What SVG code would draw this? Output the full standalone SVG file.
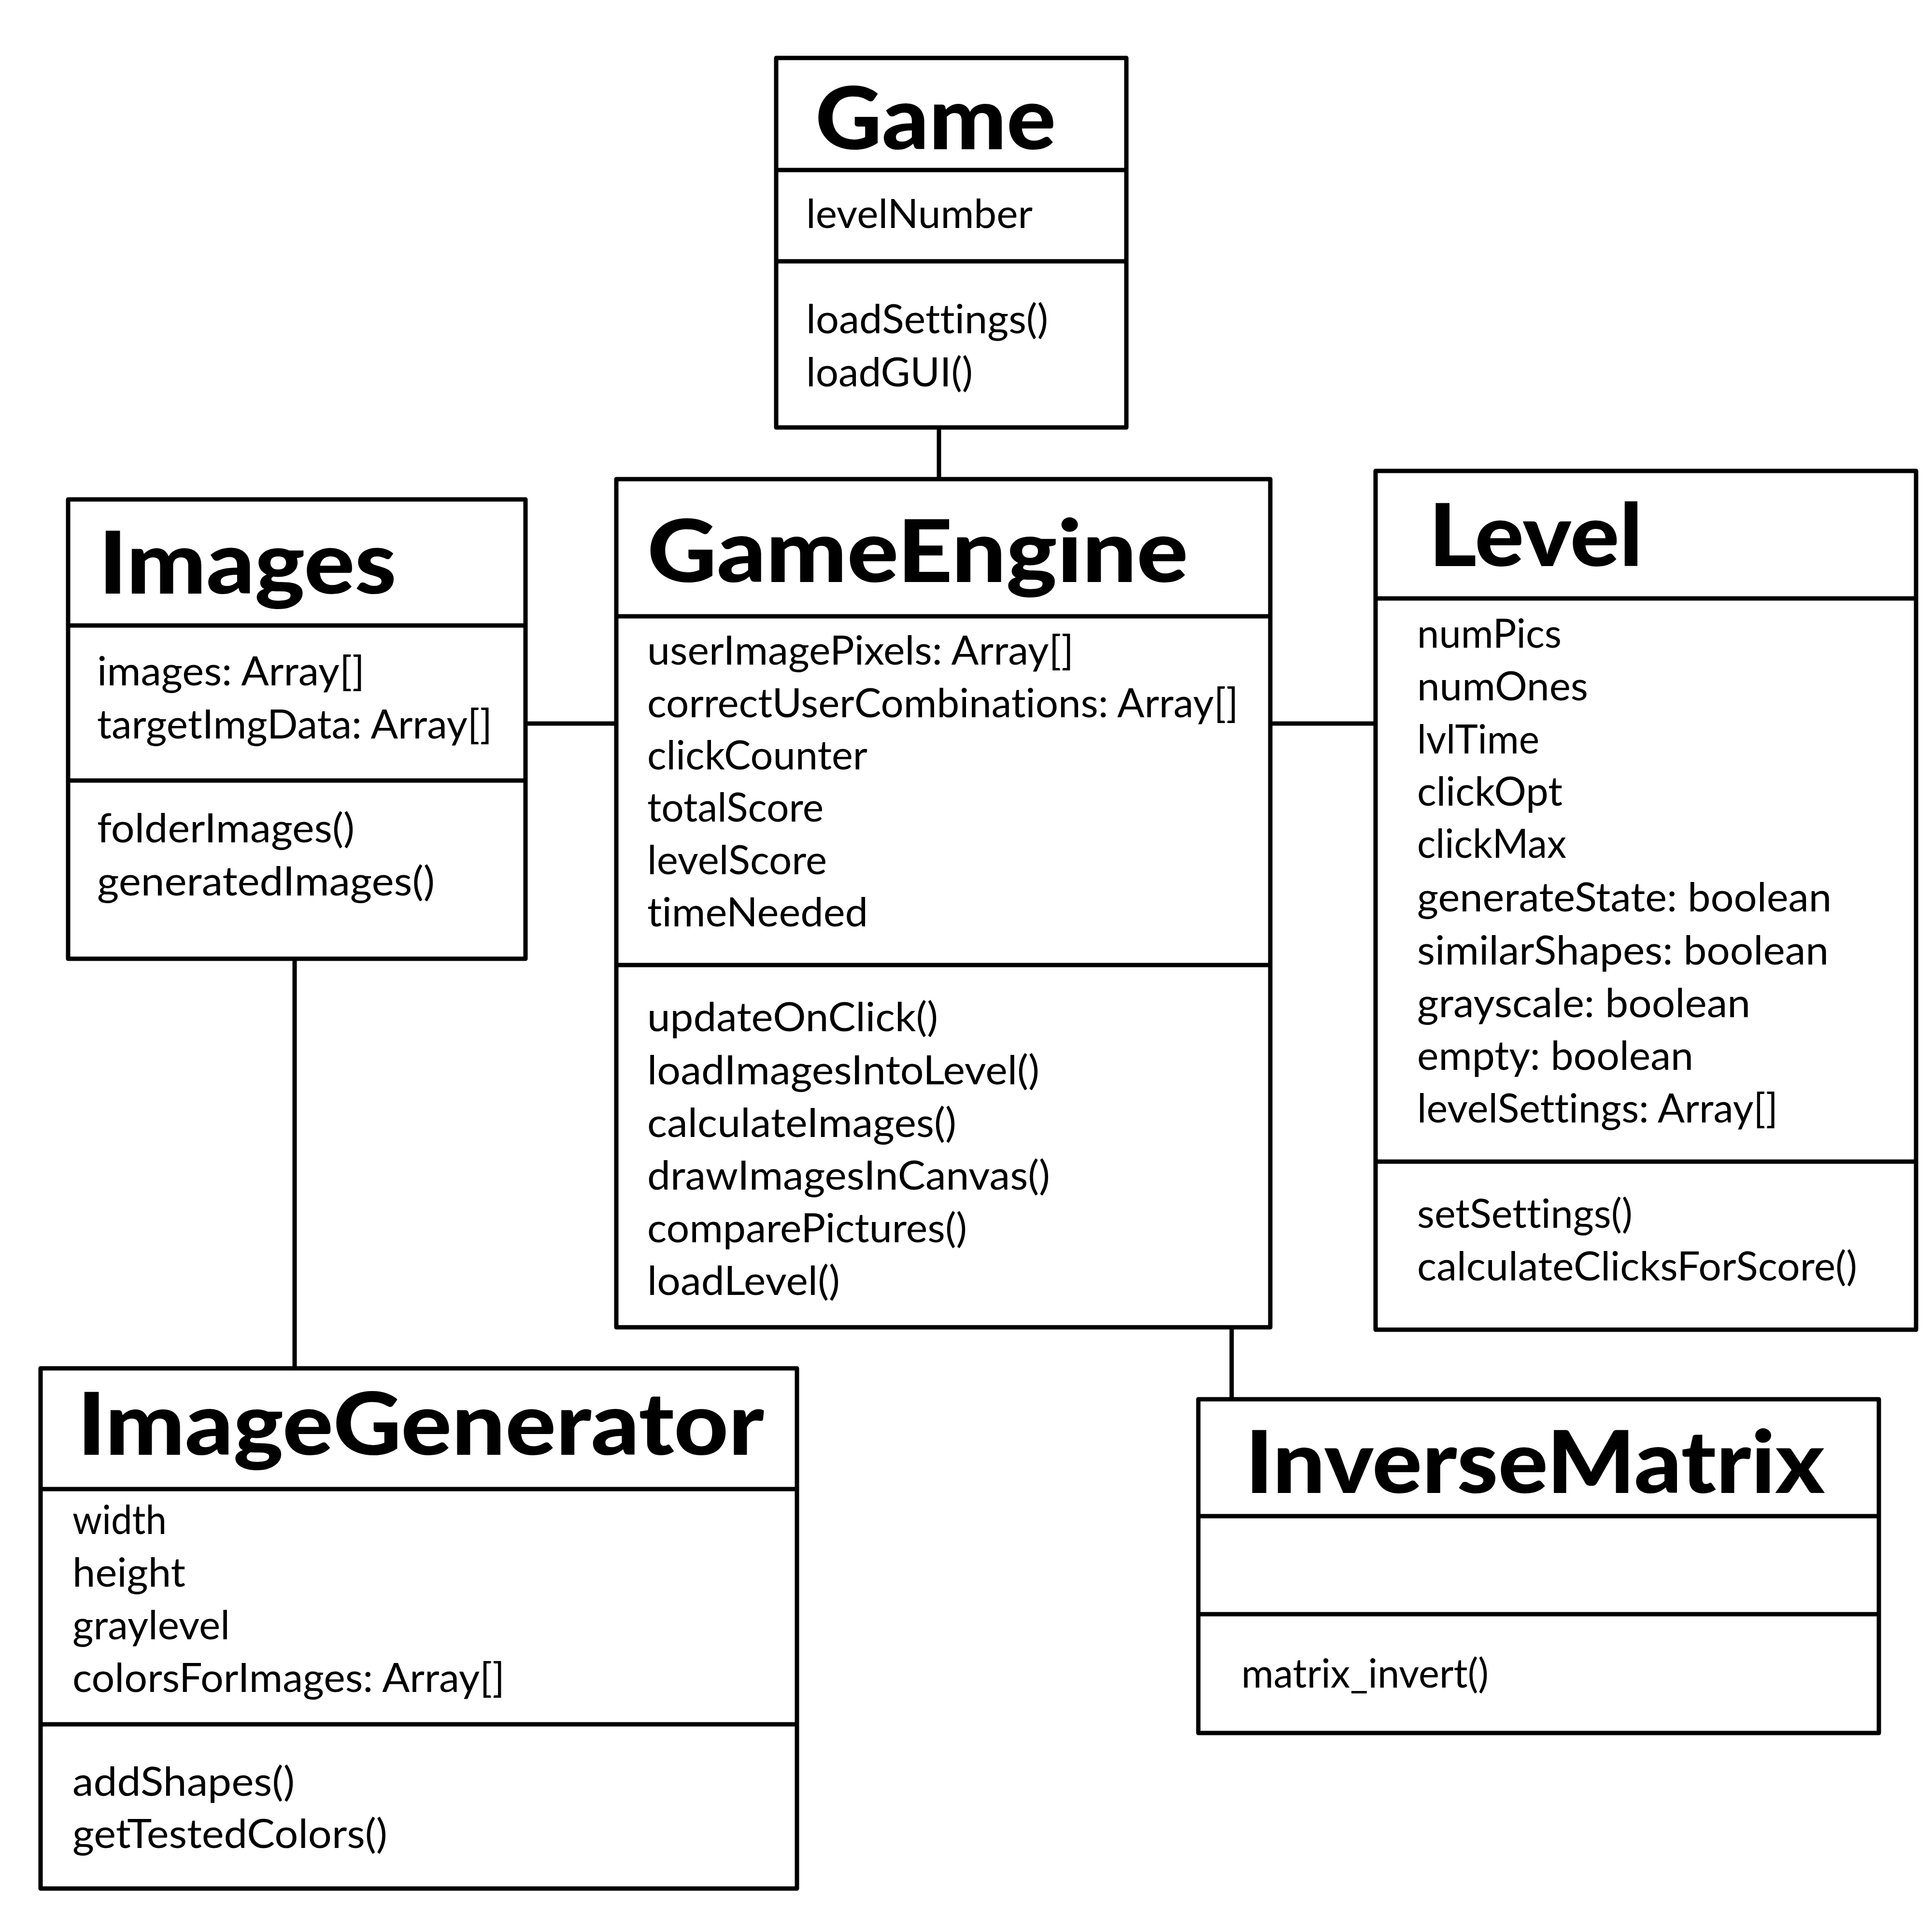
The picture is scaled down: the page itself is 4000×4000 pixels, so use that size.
<svg xmlns="http://www.w3.org/2000/svg" width="4000" height="4000" viewBox="0 0 4000 4000">
<style>
.box{fill:#fff;stroke:#000;stroke-width:9;stroke-linejoin:round}
.dv{stroke:#000;stroke-width:9;fill:none}
.cn{stroke:#000;stroke-width:9;fill:none}
.t{font-family:Lato,"Noto Sans",sans-serif;font-size:180px;font-weight:900;fill:#000;font-variant-ligatures:none;font-feature-settings:"liga" 0,"clig" 0}
.a{font-family:Lato,"Noto Sans",sans-serif;font-size:83px;font-weight:400;fill:#000;font-variant-ligatures:none;font-feature-settings:"liga" 0,"clig" 0}
</style>
<rect x="0" y="0" width="4000" height="4000" fill="#fff"/>
<g id="connectors">
<line class="cn" x1="1944" y1="885" x2="1944" y2="990"/>
<line class="cn" x1="1088" y1="1498" x2="1276" y2="1498"/>
<line class="cn" x1="2630" y1="1498" x2="2848" y2="1498"/>
<line class="cn" x1="610" y1="1985" x2="610" y2="2833"/>
<line class="cn" x1="2550" y1="2748" x2="2550" y2="2897"/>
</g>
<g id="Game">
<rect class="box" x="1607" y="120" width="725" height="765"/>
<line class="dv" x1="1607" y1="352" x2="2332" y2="352"/>
<line class="dv" x1="1607" y1="541" x2="2332" y2="541"/>
<text class="t" x="1688" y="309" textLength="498" lengthAdjust="spacingAndGlyphs">Game</text>
<text class="a" x="1669" y="472" textLength="469" lengthAdjust="spacingAndGlyphs">levelNumber</text>
<text class="a" x="1669" y="690" textLength="501" lengthAdjust="spacingAndGlyphs">loadSettings()</text>
<text class="a" x="1669" y="800" textLength="345" lengthAdjust="spacingAndGlyphs">loadGUI()</text>
</g>
<g id="Images">
<rect class="box" x="141" y="1034" width="947" height="951"/>
<line class="dv" x1="141" y1="1295" x2="1088" y2="1295"/>
<line class="dv" x1="141" y1="1616" x2="1088" y2="1616"/>
<text class="t" x="204" y="1229" textLength="617" lengthAdjust="spacingAndGlyphs">Images</text>
<text class="a" x="201" y="1419" textLength="554" lengthAdjust="spacingAndGlyphs">images: Array[]</text>
<text class="a" x="201" y="1529" textLength="818" lengthAdjust="spacingAndGlyphs">targetImgData: Array[]</text>
<text class="a" x="201" y="1744" textLength="533" lengthAdjust="spacingAndGlyphs">folderImages()</text>
<text class="a" x="201" y="1854" textLength="699" lengthAdjust="spacingAndGlyphs">generatedImages()</text>
</g>
<g id="GameEngine">
<rect class="box" x="1276" y="992" width="1354" height="1756"/>
<line class="dv" x1="1276" y1="1276" x2="2630" y2="1276"/>
<line class="dv" x1="1276" y1="1998" x2="2630" y2="1998"/>
<text class="t" x="1340" y="1205" textLength="1120" lengthAdjust="spacingAndGlyphs">GameEngine</text>
<text class="a" x="1340" y="1376" textLength="883" lengthAdjust="spacingAndGlyphs">userImagePixels: Array[]</text>
<text class="a" x="1340" y="1485" textLength="1224" lengthAdjust="spacingAndGlyphs">correctUserCombinations: Array[]</text>
<text class="a" x="1340" y="1593" textLength="456" lengthAdjust="spacingAndGlyphs">clickCounter</text>
<text class="a" x="1340" y="1701" textLength="365" lengthAdjust="spacingAndGlyphs">totalScore</text>
<text class="a" x="1340" y="1810" textLength="372" lengthAdjust="spacingAndGlyphs">levelScore</text>
<text class="a" x="1340" y="1918" textLength="457" lengthAdjust="spacingAndGlyphs">timeNeeded</text>
<text class="a" x="1340" y="2135" textLength="602" lengthAdjust="spacingAndGlyphs">updateOnClick()</text>
<text class="a" x="1340" y="2245" textLength="812" lengthAdjust="spacingAndGlyphs">loadImagesIntoLevel()</text>
<text class="a" x="1340" y="2354" textLength="640" lengthAdjust="spacingAndGlyphs">calculateImages()</text>
<text class="a" x="1340" y="2463" textLength="834" lengthAdjust="spacingAndGlyphs">drawImagesInCanvas()</text>
<text class="a" x="1340" y="2572" textLength="662" lengthAdjust="spacingAndGlyphs">comparePictures()</text>
<text class="a" x="1340" y="2681" textLength="399" lengthAdjust="spacingAndGlyphs">loadLevel()</text>
</g>
<g id="Level">
<rect class="box" x="2848" y="975" width="1119" height="1778"/>
<line class="dv" x1="2848" y1="1239" x2="3967" y2="1239"/>
<line class="dv" x1="2848" y1="2405" x2="3967" y2="2405"/>
<text class="t" x="2958" y="1172" textLength="443" lengthAdjust="spacingAndGlyphs">Level</text>
<text class="a" x="2934" y="1341" textLength="299" lengthAdjust="spacingAndGlyphs">numPics</text>
<text class="a" x="2934" y="1450" textLength="354" lengthAdjust="spacingAndGlyphs">numOnes</text>
<text class="a" x="2934" y="1560" textLength="253" lengthAdjust="spacingAndGlyphs">lvlTime</text>
<text class="a" x="2934" y="1668" textLength="301" lengthAdjust="spacingAndGlyphs">clickOpt</text>
<text class="a" x="2934" y="1776" textLength="309" lengthAdjust="spacingAndGlyphs">clickMax</text>
<text class="a" x="2934" y="1887" textLength="858" lengthAdjust="spacingAndGlyphs">generateState: boolean</text>
<text class="a" x="2934" y="1997" textLength="852" lengthAdjust="spacingAndGlyphs">similarShapes: boolean</text>
<text class="a" x="2934" y="2106" textLength="690" lengthAdjust="spacingAndGlyphs">grayscale: boolean</text>
<text class="a" x="2934" y="2215" textLength="572" lengthAdjust="spacingAndGlyphs">empty: boolean</text>
<text class="a" x="2934" y="2324" textLength="747" lengthAdjust="spacingAndGlyphs">levelSettings: Array[]</text>
<text class="a" x="2934" y="2542" textLength="446" lengthAdjust="spacingAndGlyphs">setSettings()</text>
<text class="a" x="2934" y="2651" textLength="911" lengthAdjust="spacingAndGlyphs">calculateClicksForScore()</text>
</g>
<g id="ImageGenerator">
<rect class="box" x="84" y="2833" width="1566" height="1077"/>
<line class="dv" x1="84" y1="3083" x2="1650" y2="3083"/>
<line class="dv" x1="84" y1="3570" x2="1650" y2="3570"/>
<text class="t" x="160" y="3012" textLength="1422" lengthAdjust="spacingAndGlyphs">ImageGenerator</text>
<text class="a" x="150" y="3176" textLength="195" lengthAdjust="spacingAndGlyphs">width</text>
<text class="a" x="150" y="3285" textLength="234" lengthAdjust="spacingAndGlyphs">height</text>
<text class="a" x="150" y="3394" textLength="326" lengthAdjust="spacingAndGlyphs">graylevel</text>
<text class="a" x="150" y="3503" textLength="895" lengthAdjust="spacingAndGlyphs">colorsForImages: Array[]</text>
<text class="a" x="150" y="3718" textLength="460" lengthAdjust="spacingAndGlyphs">addShapes()</text>
<text class="a" x="150" y="3826" textLength="652" lengthAdjust="spacingAndGlyphs">getTestedColors()</text>
</g>
<g id="InverseMatrix">
<rect class="box" x="2481" y="2897" width="1409" height="691"/>
<line class="dv" x1="2481" y1="3139" x2="3890" y2="3139"/>
<line class="dv" x1="2481" y1="3342" x2="3890" y2="3342"/>
<text class="t" x="2578" y="3091" textLength="1200" lengthAdjust="spacingAndGlyphs">InverseMatrix</text>
<text class="a" x="2570" y="3494" textLength="512" lengthAdjust="spacingAndGlyphs">matrix_invert()</text>
</g>
</svg>
